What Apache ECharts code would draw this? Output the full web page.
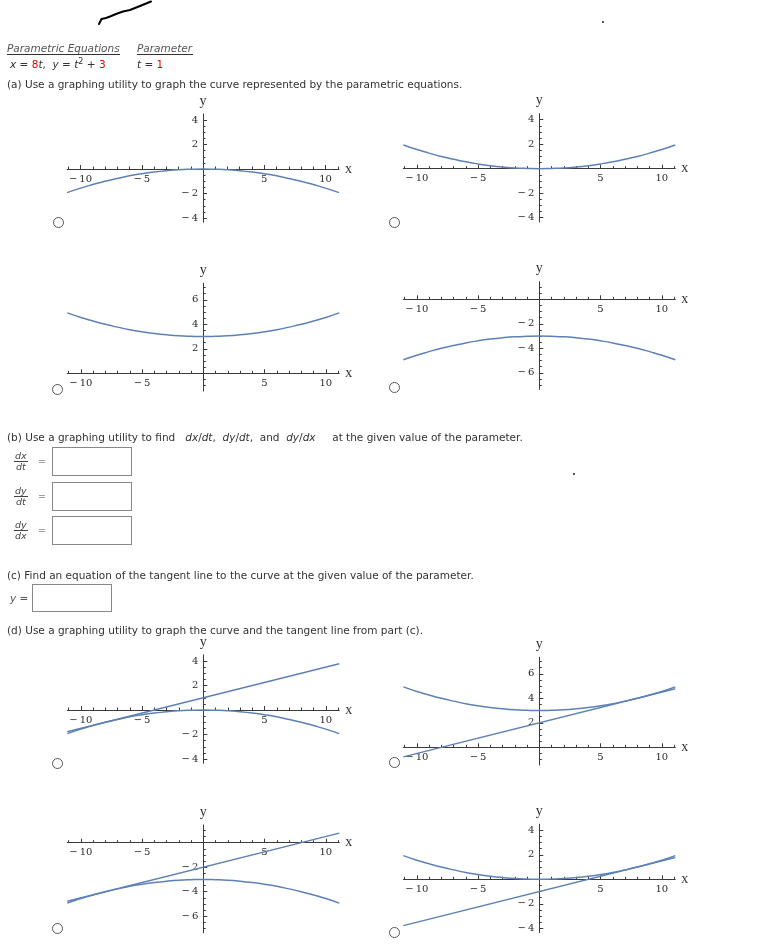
<!DOCTYPE html>
<html>
<head>
<meta charset="utf-8">
<script src="https://cdn.jsdelivr.net/npm/echarts@6/dist/echarts.min.js"></script>
<style>
  html, body { margin:0; padding:0; background:#fff; }
  #page { position:relative; width:769px; height:945px; overflow:hidden; }
  #chart { position:absolute; left:0; top:0; width:769px; height:945px; }
  .t { position:absolute; font-family:"DejaVu Sans", Verdana, sans-serif; font-size:10.5px; line-height:12px; color:#333; white-space:nowrap; z-index:2; }
  .i { font-style:italic; }
  .r { color:#e00000; }
  .hd { border-bottom:1px solid #333; font-style:italic; color:#555; }
  .box { position:absolute; border:1px solid #888; background:#fff; z-index:2; }
  .radio { position:absolute; width:9px; height:9px; border:1px solid #555; border-radius:50%; z-index:2; background:#fff; }
  .frac { position:absolute; font-family:"DejaVu Sans", sans-serif; font-style:italic; font-size:9.5px; line-height:10px; color:#444; text-align:center; z-index:2; }
  .frac .n { display:block; border-bottom:1px solid #444; padding:0 1px; }
  .frac .d { display:block; }
  .eq { position:absolute; font-family:"DejaVu Sans", sans-serif; font-size:9.5px; color:#444; z-index:2; line-height:10px; }
</style>
</head>
<body>
<div id="page">
  <div id="chart"></div>
  <svg style="position:absolute;left:0;top:0;z-index:2" width="769" height="40">
    <polyline points="99,24 101.5,19 106,18 110,16.5 116,14 123,11.5 130,10 140,6 151,1.5" fill="none" stroke="#000" stroke-width="2" stroke-linejoin="round" stroke-linecap="round"/>
    <rect x="602" y="21" width="2" height="2" fill="#555"/>
  </svg>
  <div style="position:absolute;left:573px;top:473px;width:2px;height:2px;background:#555;z-index:2"></div>

  <div class="t hd" style="left:7px;top:42px;width:113px;">Parametric Equations</div>
  <div class="t hd" style="left:137px;top:42px;width:56px;">Parameter</div>
  <div class="t" style="left:10px;top:57.5px;"><span class="i">x</span> = <span class="r">8</span><span class="i">t</span>,&nbsp; <span class="i">y</span> = <span class="i">t</span><sup style="font-size:8px;line-height:0">2</sup> + <span class="r">3</span></div>
  <div class="t" style="left:137px;top:57.5px;"><span class="i">t</span> = <span class="r">1</span></div>
  <div class="t" style="left:7px;top:77.5px;">(a) Use a graphing utility to graph the curve represented by the parametric equations.</div>

  <div class="t" style="left:7px;top:431px;">(b) Use a graphing utility to find&nbsp;&nbsp; <span class="i">dx</span>/<span class="i">dt</span>,&nbsp; <span class="i">dy</span>/<span class="i">dt</span>,&nbsp; and&nbsp; <span class="i">dy</span>/<span class="i">dx</span>&nbsp;&nbsp;&nbsp;&nbsp; at the given value of the parameter.</div>

  <div class="frac" style="left:14px;top:451px;"><span class="n">dx</span><span class="d">dt</span></div>
  <div class="eq" style="left:38px;top:456px;">=</div>
  <div class="box" style="left:52px;top:447px;width:78px;height:27px;"></div>

  <div class="frac" style="left:14px;top:486px;"><span class="n">dy</span><span class="d">dt</span></div>
  <div class="eq" style="left:38px;top:491px;">=</div>
  <div class="box" style="left:52px;top:482px;width:78px;height:27px;"></div>

  <div class="frac" style="left:14px;top:520px;"><span class="n">dy</span><span class="d">dx</span></div>
  <div class="eq" style="left:38px;top:525px;">=</div>
  <div class="box" style="left:52px;top:516px;width:78px;height:27px;"></div>

  <div class="t" style="left:7px;top:568.5px;">(c) Find an equation of the tangent line to the curve at the given value of the parameter.</div>
  <div class="t" style="left:10px;top:592px;color:#555;"><span class="i">y</span> =</div>
  <div class="box" style="left:32px;top:584px;width:78px;height:26px;"></div>
  <div class="t" style="left:7px;top:624px;">(d) Use a graphing utility to graph the curve and the tangent line from part (c).</div>

  <div class="radio" style="left:53px;top:217px;"></div>
  <div class="radio" style="left:389px;top:217px;"></div>
  <div class="radio" style="left:52px;top:384px;"></div>
  <div class="radio" style="left:389px;top:382px;"></div>
  <div class="radio" style="left:52px;top:758px;"></div>
  <div class="radio" style="left:389px;top:757px;"></div>
  <div class="radio" style="left:52px;top:923px;"></div>
  <div class="radio" style="left:389px;top:927px;"></div>
</div>
<script>
// ---- data ----
const xs = [-11.1, -10, -9, -8, -7, -6, -5, -4, -3, -2, -1, 0, 1, 2, 3, 4, 5, 6, 7, 8, 9, 10, 11.1];
// (a) curve options
const curveA1 = [-1.93, -1.56, -1.27, -1.00, -0.77, -0.56, -0.39, -0.25, -0.14, -0.06, -0.02, 0, -0.02, -0.06, -0.14, -0.25, -0.39, -0.56, -0.77, -1.00, -1.27, -1.56, -1.93];
const curveA2 = [1.93, 1.56, 1.27, 1.00, 0.77, 0.56, 0.39, 0.25, 0.14, 0.06, 0.02, 0, 0.02, 0.06, 0.14, 0.25, 0.39, 0.56, 0.77, 1.00, 1.27, 1.56, 1.93];
const curveB1 = [4.93, 4.56, 4.27, 4.00, 3.77, 3.56, 3.39, 3.25, 3.14, 3.06, 3.02, 3, 3.02, 3.06, 3.14, 3.25, 3.39, 3.56, 3.77, 4.00, 4.27, 4.56, 4.93];
const curveB2 = [-4.93, -4.56, -4.27, -4.00, -3.77, -3.56, -3.39, -3.25, -3.14, -3.06, -3.02, -3, -3.02, -3.06, -3.14, -3.25, -3.39, -3.56, -3.77, -4.00, -4.27, -4.56, -4.93];
// (d) curve + tangent line options
const curveD1 = [-1.93, -1.56, -1.27, -1.00, -0.77, -0.56, -0.39, -0.25, -0.14, -0.06, -0.02, 0, -0.02, -0.06, -0.14, -0.25, -0.39, -0.56, -0.77, -1.00, -1.27, -1.56, -1.93];
const curveD2 = [4.93, 4.56, 4.27, 4.00, 3.77, 3.56, 3.39, 3.25, 3.14, 3.06, 3.02, 3, 3.02, 3.06, 3.14, 3.25, 3.39, 3.56, 3.77, 4.00, 4.27, 4.56, 4.93];
const curveE1 = [-4.93, -4.56, -4.27, -4.00, -3.77, -3.56, -3.39, -3.25, -3.14, -3.06, -3.02, -3, -3.02, -3.06, -3.14, -3.25, -3.39, -3.56, -3.77, -4.00, -4.27, -4.56, -4.93];
const curveE2 = [1.93, 1.56, 1.27, 1.00, 0.77, 0.56, 0.39, 0.25, 0.14, 0.06, 0.02, 0, 0.02, 0.06, 0.14, 0.25, 0.39, 0.56, 0.77, 1.00, 1.27, 1.56, 1.93];
const lineXs = [-11.1, 11.1];
const lineD1 = [-1.78, 3.78];
const lineD2 = [-0.78, 4.78];
const lineE1 = [-4.78, 0.78];
const lineE2 = [-3.78, 1.78];
// tick labels
const xMajor = [-10, -5, 5, 10];
const xMinor = [-11, -10, -9, -8, -7, -6, -5, -4, -3, -2, -1, 1, 2, 3, 4, 5, 6, 7, 8, 9, 10, 11];
const yMajorA = [-4, -2, 2, 4];
const yMinorA = [-4, -3.5, -3, -2.5, -2, -1.5, -1, -0.5, 0.5, 1, 1.5, 2, 2.5, 3, 3.5, 4];
const yMajorUp = [2, 4, 6];
const yMinorUp = [-1, -0.5, 0.5, 1, 1.5, 2, 2.5, 3, 3.5, 4, 4.5, 5, 5.5, 6, 6.5, 7];
const yMajorDown = [-6, -4, -2];
const yMinorDown = [-7, -6.5, -6, -5.5, -5, -4.5, -4, -3.5, -3, -2.5, -2, -1.5, -1, -0.5, 0.5, 1];

// ---- layout ----
const S = 12.25; // px per unit
const XMIN = -11.1, XMAX = 11.1;
const rangeA = [-4.35, 4.5], rangeUp = [-1.45, 7.35], rangeDown = [-7.35, 1.45];
const panels = [
  { ox: 203, oy: 169, r: rangeA, maj: yMajorA, min: yMinorA, curves: [curveA1], lines: [] },
  { ox: 539.3, oy: 168.7, r: rangeA, maj: yMajorA, min: yMinorA, curves: [curveA2], lines: [] },
  { ox: 203.3, oy: 373.3, r: rangeUp, maj: yMajorUp, min: yMinorUp, curves: [curveB1], lines: [] },
  { ox: 539.3, oy: 299.3, r: rangeDown, maj: yMajorDown, min: yMinorDown, curves: [curveB2], lines: [] },
  { ox: 203.3, oy: 710, r: rangeA, maj: yMajorA, min: yMinorA, curves: [curveD1], lines: [lineD1] },
  { ox: 539.3, oy: 747.3, r: rangeUp, maj: yMajorUp, min: yMinorUp, curves: [curveD2], lines: [lineD2] },
  { ox: 203.3, oy: 842.7, r: rangeDown, maj: yMajorDown, min: yMinorDown, curves: [curveE1], lines: [lineE1] },
  { ox: 539.3, oy: 879.3, r: rangeA, maj: yMajorA, min: yMinorA, curves: [curveE2], lines: [lineE2] }
];

const AXC = '#3a3a3a';
const LINEC = '#5e81b5';
const tickFont = { fontFamily: 'DejaVu Serif', fontSize: 10, color: '#2a2a2a' };
const fmt = v => (v < 0 ? '\u2212\u2009' + Math.abs(v) : String(v));
const grid = [], xAxis = [], yAxis = [], series = [];

panels.forEach((p, i) => {
  grid.push({
    left: p.ox + XMIN * S, top: p.oy - p.r[1] * S,
    width: (XMAX - XMIN) * S, height: (p.r[1] - p.r[0]) * S,
    containLabel: false
  });
  const xi = 2 * i, yi = 2 * i;
  const xOff = p.r[0] * S;       // move bottom axis up to y = 0
  const yOff = XMIN * S;         // move left axis right to x = 0
  xAxis.push({
    gridIndex: i, type: 'value', min: XMIN, max: XMAX, position: 'bottom', offset: xOff,
    axisLine: { onZero: false, lineStyle: { color: AXC, width: 1 } },
    axisTick: { inside: true, length: 4, customValues: xMajor, lineStyle: { color: AXC } },
    axisLabel: Object.assign({ customValues: xMajor, formatter: fmt, margin: 5 }, tickFont),
    splitLine: { show: false },
    name: 'x', nameLocation: 'end', nameGap: 6,
    nameTextStyle: { fontFamily: 'Liberation Serif', fontSize: 14, color: '#333', verticalAlign: 'middle' }
  });
  xAxis.push({
    gridIndex: i, type: 'value', min: XMIN, max: XMAX, position: 'bottom', offset: xOff,
    axisLine: { show: false, onZero: false },
    axisTick: { inside: true, length: 2.5, customValues: xMinor, lineStyle: { color: AXC } },
    axisLabel: { show: false }, splitLine: { show: false }
  });
  yAxis.push({
    gridIndex: i, type: 'value', min: p.r[0], max: p.r[1], position: 'left', offset: yOff,
    axisLine: { onZero: false, lineStyle: { color: AXC, width: 1 } },
    axisTick: { inside: true, length: 4, customValues: p.maj, lineStyle: { color: AXC } },
    axisLabel: Object.assign({ customValues: p.maj, formatter: fmt, margin: 5 }, tickFont),
    splitLine: { show: false },
    name: 'y', nameLocation: 'end', nameGap: 6,
    nameTextStyle: { fontFamily: 'Liberation Serif', fontSize: 14, color: '#333' }
  });
  yAxis.push({
    gridIndex: i, type: 'value', min: p.r[0], max: p.r[1], position: 'left', offset: yOff,
    axisLine: { show: false, onZero: false },
    axisTick: { inside: true, length: 2.5, customValues: p.min, lineStyle: { color: AXC } },
    axisLabel: { show: false }, splitLine: { show: false }
  });
  p.curves.forEach(c => {
    series.push({
      type: 'line', xAxisIndex: xi, yAxisIndex: yi, smooth: true, showSymbol: false, silent: true,
      data: xs.map((x, k) => [x, c[k]]),
      lineStyle: { color: LINEC, width: 1.5 }
    });
  });
  p.lines.forEach(l => {
    series.push({
      type: 'line', xAxisIndex: xi, yAxisIndex: yi, showSymbol: false, silent: true,
      data: lineXs.map((x, k) => [x, l[k]]),
      lineStyle: { color: LINEC, width: 1.5 }
    });
  });
});

const chart = echarts.init(document.getElementById('chart'), null, { renderer: 'canvas' });
chart.setOption({ animation: false, grid, xAxis, yAxis, series });
</script>
</body>
</html>
